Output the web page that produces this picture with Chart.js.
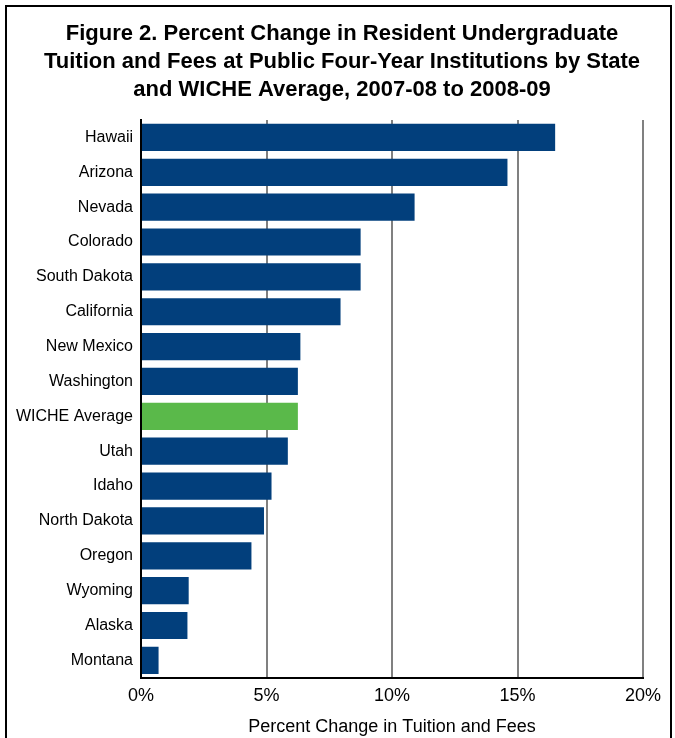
<!DOCTYPE html>
<html>
<head>
<meta charset="utf-8">
<script src="https://cdn.jsdelivr.net/npm/chart.js@4/dist/chart.umd.min.js"></script>
<style>
  html, body { margin: 0; padding: 0; background: #fff; }
  #wrap { position: relative; width: 675px; height: 738px; overflow: hidden; }
  #frame { position: absolute; left: 5px; top: 5px; width: 667px; height: 760px; border: 2px solid #000; box-sizing: border-box; }
  canvas { position: absolute; left: 0; top: 0; }
</style>
</head>
<body>
<div id="wrap">
  <div id="frame"></div>
  <canvas id="grafico" width="675" height="738"></canvas>
</div>
<script>
// datos del grafico
var estados = ['Hawaii', 'Arizona', 'Nevada', 'Colorado', 'South Dakota', 'California', 'New Mexico',
  'Washington', 'WICHE Average', 'Utah', 'Idaho', 'North Dakota', 'Oregon', 'Wyoming', 'Alaska', 'Montana'];
var cambio = [16.5, 14.6, 10.9, 8.75, 8.75, 7.95, 6.35, 6.25, 6.25, 5.85, 5.2, 4.9, 4.4, 1.9, 1.85, 0.7];
var ticksX = [0, 5, 10, 15, 20];
var titulo = ['Figure 2. Percent Change in Resident Undergraduate',
  'Tuition and Fees at Public Four-Year Institutions by State',
  'and WICHE Average, 2007-08 to 2008-09'];

var AZUL = '#023f7c';
var VERDE = '#5ab94a';
var FUENTE = "'Liberation Sans', Arial, sans-serif";

var colores = estados.map(function (e) { return e == 'WICHE Average' ? VERDE : AZUL; });

// el titulo va un poco a la derecha del centro, lo pinto a mano
var tituloPlugin = {
  id: 'tituloFigura',
  afterDraw: function (chart) {
    var ctx = chart.ctx;
    ctx.save();
    ctx.fillStyle = '#000';
    ctx.font = 'bold 22px ' + FUENTE;
    ctx.textAlign = 'center';
    ctx.textBaseline = 'middle';
    titulo.forEach(function (linea, i) {
      ctx.fillText(linea, 342, 34 + i * 28);
    });
    ctx.restore();
  }
};

new Chart(document.getElementById('grafico'), {
  type: 'bar',
  data: {
    labels: estados,
    datasets: [{
      data: cambio,
      backgroundColor: colores,
      borderWidth: 0,
      barPercentage: 0.78,
      categoryPercentage: 1.0
    }]
  },
  plugins: [tituloPlugin],
  options: {
    indexAxis: 'y',
    responsive: false,
    animation: false,
    devicePixelRatio: 1,
    layout: { padding: { left: 0, right: 32, top: 120, bottom: 0 } },
    plugins: {
      legend: { display: false },
      tooltip: { enabled: false },
      title: { display: false }
    },
    scales: {
      x: {
        min: 0,
        max: 20,
        afterBuildTicks: function (eje) {
          eje.ticks = ticksX.map(function (v) { return { value: v }; });
        },
        ticks: {
          color: '#000',
          font: { family: FUENTE, size: 18 },
          padding: 7,
          maxRotation: 0,
          callback: function (v) { return v + '%'; }
        },
        grid: {
          color: function (ctx) { return ctx.tick && ctx.tick.value === 0 ? '#000' : '#808080'; },
          lineWidth: 2,
          drawTicks: false
        },
        border: { color: '#000', width: 2 },
        title: {
          display: true,
          text: 'Percent Change in Tuition and Fees',
          color: '#000',
          font: { family: FUENTE, size: 18 },
          padding: { top: 3, bottom: 0 }
        }
      },
      y: {
        afterFit: function (eje) { eje.width = 141; },
        ticks: {
          color: '#000',
          font: { family: FUENTE, size: 16 },
          padding: 8
        },
        grid: { display: false, drawTicks: false },
        border: { color: '#000', width: 2 }
      }
    }
  }
});
</script>
</body>
</html>
